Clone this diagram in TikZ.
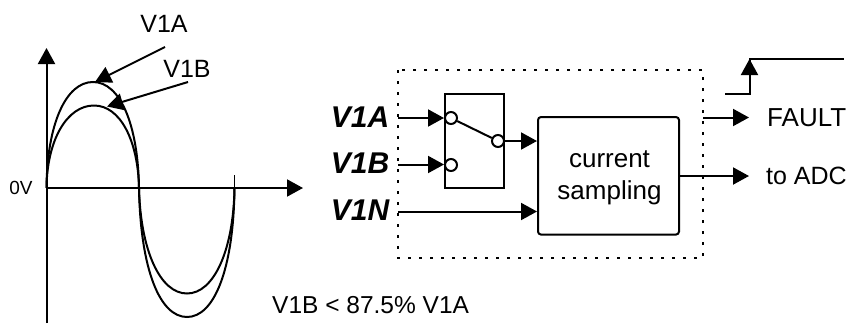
\documentclass[tikz,border=0pt]{standalone}
\usepackage{fontspec}
\setmainfont{Liberation Sans}
\usetikzlibrary{arrows.meta,calc}
\tikzset{
  ln/.style={line width=2pt,black},
  arr/.style={ln,-{Triangle[length=16pt,width=17pt]},shorten >=0pt},
  wave/.style={line width=2pt,black},
  lbl/.style={font=\fontsize{25}{27}\selectfont,inner sep=0pt},
  sig/.style={font=\fontsize{30}{32}\selectfont\bfseries\itshape,inner sep=0pt},
  blk/.style={draw,line width=2pt,inner sep=0pt,minimum width=0pt},
  port/.style={circle,draw,line width=2pt,fill=white,minimum size=12pt,inner sep=0pt},
}
\begin{document}
\begin{tikzpicture}[x=1pt,y=-1pt]
\useasboundingbox (0,0) rectangle (851,327);
% waveform axes
\coordinate (ybot) at (46.5,323);
\coordinate (ytop) at (46.5,48);
\coordinate (xl) at (46.5,188);
\coordinate (xr) at (303,188);
\draw[arr] (ybot) -- (ytop);
\draw[arr] (xl) -- (xr);
\coordinate (tickt) at (234.5,175);
\coordinate (tickb) at (234.5,188);
\draw[line width=1pt] (tickt) -- (tickb);
% waves
\draw[wave] (46.5,188) .. controls (47,124) and (66,82) .. (93,82)
   .. controls (120,82) and (138,124) .. (139,188);
\draw[wave] (46.5,188) .. controls (47,140) and (67,105.5) .. (94,105.5)
   .. controls (120,105.5) and (138,140) .. (139,188);
\draw[wave] (139,188) .. controls (140.5,270) and (160,317) .. (187,317)
   .. controls (214,317) and (233.5,270) .. (234.5,188);
\draw[wave] (139,188) .. controls (140.5,250) and (160,293.5) .. (187,293.5)
   .. controls (214,293.5) and (233.5,250) .. (234.5,188);
% wave labels
\node[lbl] (la) at (164,24) {V1A};
\node[lbl] (lb) at (187,69) {V1B};
\node[font=\fontsize{19}{22}\selectfont,inner sep=0pt] (zero) at (21,188) {0V};
\node[font=\fontsize{24.5}{26}\selectfont,inner sep=0pt,anchor=west] (cond) at (272,305) {V1B < 87.5\% V1A};
\coordinate (pa) at (165,47);
\coordinate (pat) at (95,82);
\coordinate (pb) at (188,82);
\coordinate (pbt) at (107,106.5);
\draw[arr] (pa) -- (pat);
\draw[arr] (pb) -- (pbt);
% block diagram
\draw[line width=2pt,dash pattern=on 3pt off 8pt] (398,70) rectangle (703,258);
\node[blk,minimum width=59pt,minimum height=94pt] (sw) at (474.5,141) {};
\node[blk,rounded corners=3pt,minimum width=141pt,minimum height=117.5pt] (cs) at (608.5,175.8) {};
\node[font=\fontsize{26}{31.5}\selectfont,align=center,inner sep=0pt] (cst) at (609.5,178) {current\\sampling};
\node[sig] (va) at (360,117) {V1A};
\node[sig] (vb) at (360,163) {V1B};
\node[sig] (vn) at (360,210) {V1N};
\coordinate (ia) at (398,118);
\coordinate (ib) at (398,164.5);
\coordinate (in) at (398,211.5);
\draw[arr] (ia) -- (ia -| sw.west);
\draw[arr] (ib) -- (ib -| sw.west);
\draw[arr] (in) -- (in -| cs.west);
\node[port] (p1) at (451,118) {};
\node[port] (p2) at (451,165) {};
\node[port] (p3) at (498,141) {};
\draw[ln] (p1) -- (p3);
\draw[arr] (p3.east) -- (p3.east -| cs.west);
% outputs
\coordinate (of) at (703,117.5);
\coordinate (oft) at (749,117.5);
\coordinate (oat) at (749,176);
\draw[arr] (of) -- (oft);
\draw[arr] (oat -| cs.east) -- (oat);
\node[font=\fontsize{26}{28}\selectfont,inner sep=0pt,anchor=west] (fault) at (767,117.5) {FAULT};
\node[lbl,anchor=west] (adc) at (766,176) {to ADC};
% step
\coordinate (s1) at (725,94);
\coordinate (s2) at (749.5,94);
\coordinate (s3) at (749.5,59);
\coordinate (s4) at (844,59);
\draw[ln] (s1) -- (s2) -- (s3) -- (s4);
\draw[arr] (s2) -- (s3);
\end{tikzpicture}
\end{document}
